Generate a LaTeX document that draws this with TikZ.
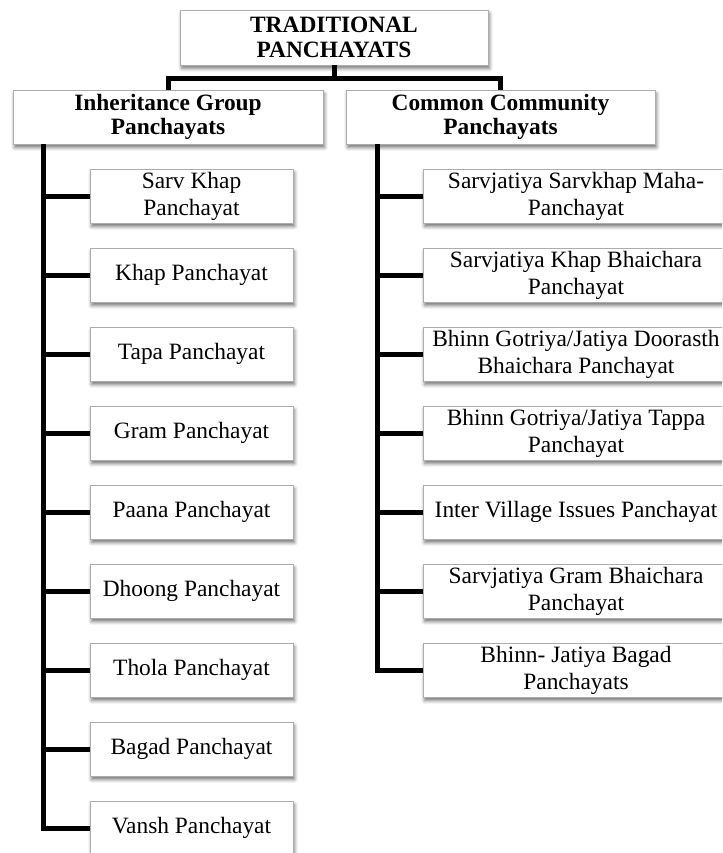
\documentclass[tikz,border=0pt]{standalone}
\usepackage{fontspec}
\setmainfont{Liberation Serif}
\usetikzlibrary{shadows.blur}
\begin{document}
\begin{tikzpicture}[x=1pt,y=1pt,
  box/.style={draw=gray!65, line width=0.9pt, fill=white, align=center,
    inner sep=0pt, font=\fontsize{23.4}{27}\selectfont,
    blur shadow={shadow xshift=1.5pt, shadow yshift=-3.5pt,
      shadow blur radius=3.5pt, shadow opacity=55}},
  headbox/.style={box, font=\fontsize{23.4}{24.5}\selectfont\bfseries},
  leafL/.style={box, minimum width=203pt, minimum height=54pt},
  leafR/.style={box, minimum width=306pt, minimum height=54pt},
  link/.style={line width=5pt, line join=miter}]
\useasboundingbox (0,0) rectangle (722,-853);
\clip (0,0) rectangle (722,-853);

% root and the two branch heads
\node[headbox, minimum width=308pt, minimum height=55pt] (root) at (334,-37.5)
  {TRADITIONAL\\PANCHAYATS};
\node[headbox, minimum width=310pt, minimum height=54pt] (inh) at (168,-117)
  {Inheritance Group\\Panchayats};
\node[headbox, minimum width=309pt, minimum height=54pt] (com) at (500.5,-117)
  {Common Community\\Panchayats};

% inheritance group members
\foreach \t [count=\i from 0] in {{Sarv Khap\\Panchayat},{Khap Panchayat},
  {Tapa Panchayat},{Gram Panchayat},{Paana Panchayat},{Dhoong Panchayat},
  {Thola Panchayat},{Bagad Panchayat},{Vansh Panchayat}}
  \node[leafL] (l\i) at (191.5,{-196-79*\i}) {\t};

% common community members
\foreach \t [count=\i from 0] in {{Sarvjatiya Sarvkhap Maha-\\Panchayat},
  {Sarvjatiya Khap Bhaichara\\Panchayat},
  {Bhinn Gotriya/Jatiya Doorasth\\Bhaichara Panchayat},
  {Bhinn Gotriya/Jatiya Tappa\\Panchayat},
  {Inter Village Issues Panchayat},
  {Sarvjatiya Gram Bhaichara\\Panchayat},
  {Bhinn- Jatiya Bagad\\Panchayats}}
  \node[leafR] (r\i) at (576,{-196-79*\i}) {\t};

% connectors
\draw[link] (root.south) -- ++(0,-13) coordinate (bar) -| (inh.north);
\draw[link] (bar) -| (com.north);
\foreach \i in {0,...,8}
  \draw[link] ([xshift=31pt]inh.south west) |- (l\i.west);
\foreach \i in {0,...,6}
  \draw[link] ([xshift=32pt]com.south west) |- (r\i.west);
\end{tikzpicture}
\end{document}
